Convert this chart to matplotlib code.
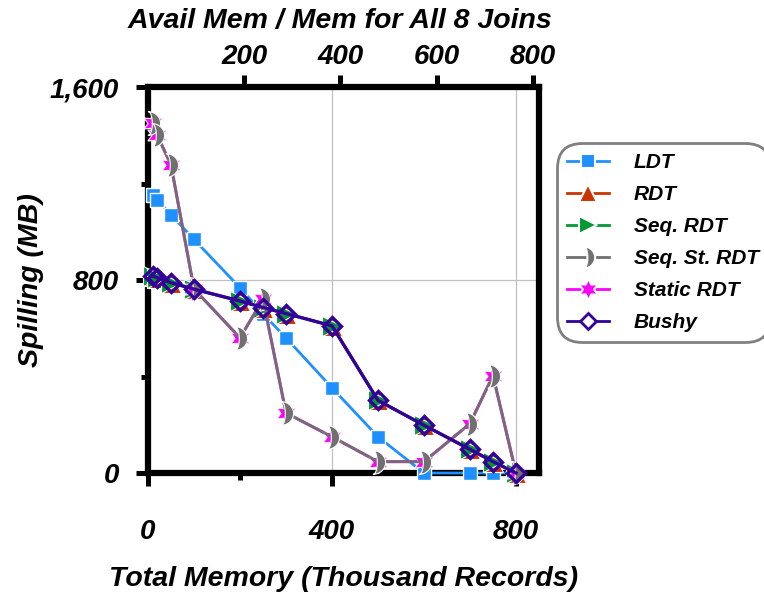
import numpy as np
import matplotlib
matplotlib.use("Agg")
import matplotlib.pyplot as plt
from matplotlib.lines import Line2D
from matplotlib.path import Path
from matplotlib.ticker import FixedLocator

# ---- data -------------------------------------------------------------
memory = [10, 20, 50, 100, 200, 250, 300, 400, 500, 600, 700, 750, 800]

ldt = [1153, 1133, 1071, 968, 768, 660, 560, 353, 150, 0, 0, 0, 0]
rdt = [816, 810, 789, 762, 713, 686, 661, 610, 301, 198, 98, 47, 0]
seq_rdt = [816, 810, 789, 762, 713, 686, 661, 610, 301, 198, 98, 47, 0]
seq_st_rdt = [1450, 1401, 1277, 763, 560, 720, 249, 150, 47, 47, 205, 404, 0]
static_rdt = [1450, 1401, 1277, 763, 560, 720, 249, 150, 47, 47, 205, 404, 0]
bushy = [816, 810, 789, 762, 713, 686, 661, 610, 301, 198, 98, 47, 0]

series_names = ["LDT", "RDT", "Seq. RDT", "Seq. St. RDT", "Static RDT", "Bushy"]

bottom_ticks = [0, 400, 800]
bottom_minor = [200, 600]
top_ticks = [200, 400, 600, 800]
y_ticks = [0, 800, 1600]
y_minor = [400, 1200]

# ---- style ------------------------------------------------------------
plt.rcParams["font.family"] = ["Liberation Sans", "DejaVu Sans"]
plt.rcParams["font.weight"] = "bold"
plt.rcParams["font.style"] = "italic"
plt.rcParams["axes.labelweight"] = "bold"

C_LDT = "#1e90ff"
C_RDT = "#cc3300"
C_SEQ = "#009933"
C_MOON = "#707070"
C_STAR = "#ff00ff"
C_BUSHY = "#330099"

# crescent marker, bulging to the right
th = np.linspace(np.pi / 2, -np.pi / 2, 40)
outer = np.column_stack([-0.45 + 1.05 * np.cos(th), np.sin(th)])
inner = np.column_stack([-0.45 + 0.35 * np.cos(th[::-1]), np.sin(th[::-1])])
verts = np.vstack([outer, inner, outer[:1]])
codes = [Path.MOVETO] + [Path.LINETO] * (len(verts) - 2) + [Path.CLOSEPOLY]
moon = Path(verts, codes)
star6 = (6, 1, 0)

fig = plt.figure(figsize=(7.64, 5.92), dpi=100)
ax = fig.add_axes([148 / 764, 1 - 473 / 592, 391 / 764, 386 / 592])

ax.set_xlim(0, 850)
ax.set_ylim(0, 1600)

common = dict(clip_on=False)
ax.plot(memory, ldt, color=C_LDT, lw=2.0, marker="s", ms=10.5, mfc=C_LDT,
        mec="white", mew=1.0, zorder=3, **common)
ax.plot(memory, rdt, color=C_RDT, lw=2.0, marker="^", ms=15, mfc=C_RDT,
        mec="white", mew=0.8, zorder=4, **common)
ax.plot(memory, seq_rdt, color=C_SEQ, lw=2.0, marker=">", ms=15, mfc=C_SEQ,
        mec="white", mew=0.8, zorder=4.5, **common)
ax.plot(memory, static_rdt, color=C_STAR, lw=2.0, marker=star6, ms=16,
        mfc=C_STAR, mec="white", mew=0.8, zorder=5, **common)
ax.plot(memory, seq_st_rdt, color=(112 / 255, 112 / 255, 112 / 255, 0.9),
        lw=2.2, marker=moon, ms=17, mfc=C_MOON, mec="white", mew=0.8,
        zorder=5.5, **common)
ax.plot(memory, bushy, color=C_BUSHY, lw=2.4, marker="D", ms=9,
        mfc="none", mec=C_BUSHY, mew=2.4, zorder=6, **common)

# ---- axes -------------------------------------------------------------
for side in ["left", "right", "top", "bottom"]:
    ax.spines[side].set_linewidth(4.5)
    ax.spines[side].set_color("black")
    ax.spines[side].set_capstyle("projecting")

ax.xaxis.set_major_locator(FixedLocator(bottom_ticks))
ax.xaxis.set_minor_locator(FixedLocator(bottom_minor))
ax.yaxis.set_major_locator(FixedLocator(y_ticks))
ax.yaxis.set_minor_locator(FixedLocator(y_minor))
ax.set_yticklabels([f"{v:,}" for v in y_ticks])
ax.set_xticklabels([str(v) for v in bottom_ticks])

ax.tick_params(axis="both", which="major", direction="out", length=9,
               width=3.6, labelsize=20)
ax.tick_params(axis="both", which="minor", direction="out", length=5,
               width=3.6)
ax.tick_params(axis="x", which="major", pad=24)
ax.tick_params(axis="y", which="major", pad=12)
ax.tick_params(top=False, right=False, which="both")

ax.grid(True, which="major", color="#c0c0c0", linewidth=0.9)
ax.set_axisbelow(True)

ax.set_xlabel("Total Memory (Thousand Records)", fontsize=20.5,
              fontweight="bold")
ax.xaxis.set_label_coords(0.5, -0.293)
ax.xaxis.label.set_va("baseline")
ax.set_ylabel("Spilling (MB)", fontsize=20.5, fontweight="bold")
ax.yaxis.set_label_coords(-0.30, 0.5)
ax.yaxis.label.set_va("center")

ax2 = ax.twiny()
ax2.set_xlim(0, 813)
ax2.xaxis.set_major_locator(FixedLocator(top_ticks))
ax2.set_xticklabels([str(v) for v in top_ticks])
ax2.tick_params(axis="x", which="major", direction="out", length=9,
                width=3.6, labelsize=20, pad=3)
for side in ["left", "right", "top", "bottom"]:
    ax2.spines[side].set_visible(False)

fig.text(340 / 764, 1 - 28 / 592, "Avail Mem / Mem for All 8 Joins",
         fontsize=20.5, fontweight="bold", ha="center", va="baseline")

# ---- legend -----------------------------------------------------------
handles = [
    Line2D([], [], color=C_LDT, lw=2, marker="s", ms=10, mfc=C_LDT,
           mec="white", mew=1.5),
    Line2D([], [], color=C_RDT, lw=2, marker="^", ms=13, mfc=C_RDT,
           mec="white", mew=1.5),
    Line2D([], [], color=C_SEQ, lw=2, marker=">", ms=13, mfc=C_SEQ,
           mec="white", mew=1.5),
    Line2D([], [], color=C_MOON, lw=2, marker=moon, ms=16, mfc=C_MOON,
           mec="white", mew=1.5),
    Line2D([], [], color=C_STAR, lw=2, marker=star6, ms=16, mfc=C_STAR,
           mec="white", mew=1.5),
    Line2D([], [], color=C_BUSHY, lw=2, marker="D", ms=8, mfc="white",
           mec=C_BUSHY, mew=2),
]
leg = fig.legend(handles, series_names, loc="upper left",
                 bbox_to_anchor=(557 / 764, 1 - 143 / 592),
                 bbox_transform=fig.transFigure, fontsize=15,
                 handlelength=2.0, handletextpad=1.2, labelspacing=0.62,
                 borderpad=0.5, borderaxespad=0, fancybox=True,
                 framealpha=1, edgecolor="#808080")
leg.get_frame().set_linewidth(2)
leg.get_frame().set_boxstyle("round", pad=0.0, rounding_size=1.2)

fig.savefig("out.png", dpi=100)
